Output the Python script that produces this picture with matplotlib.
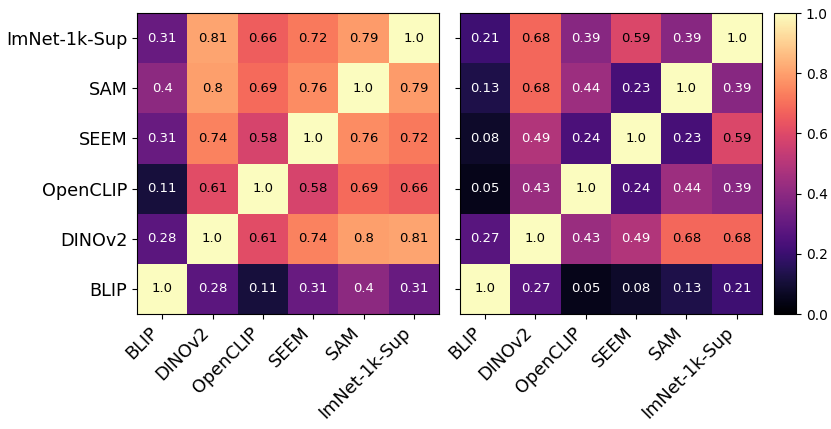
import numpy as np
import matplotlib
matplotlib.use('Agg')
import matplotlib.pyplot as plt

models = ['BLIP', 'DINOv2', 'OpenCLIP', 'SEEM', 'SAM', 'ImNet-1k-Sup']

# rows listed bottom (BLIP) to top (ImNet-1k-Sup), columns in models order
sim_left = [
    [1.0, 0.28, 0.11, 0.31, 0.4, 0.31],
    [0.28, 1.0, 0.61, 0.74, 0.8, 0.81],
    [0.11, 0.61, 1.0, 0.58, 0.69, 0.66],
    [0.31, 0.74, 0.58, 1.0, 0.76, 0.72],
    [0.4, 0.8, 0.69, 0.76, 1.0, 0.79],
    [0.31, 0.81, 0.66, 0.72, 0.79, 1.0],
]
sim_right = [
    [1.0, 0.27, 0.05, 0.08, 0.13, 0.21],
    [0.27, 1.0, 0.43, 0.49, 0.68, 0.68],
    [0.05, 0.43, 1.0, 0.24, 0.44, 0.39],
    [0.08, 0.49, 0.24, 1.0, 0.23, 0.59],
    [0.13, 0.68, 0.44, 0.23, 1.0, 0.39],
    [0.21, 0.68, 0.39, 0.59, 0.39, 1.0],
]

fig = plt.figure(figsize=(8.31, 4.29), dpi=100)
ax1 = fig.add_axes([0.1649, 0.268, 0.3634, 0.7016])
ax2 = fig.add_axes([0.5535, 0.268, 0.3634, 0.7016])
cax = fig.add_axes([0.9314, 0.268, 0.0265, 0.7016])

for ax, data, show_y in [(ax1, sim_left, True), (ax2, sim_right, False)]:
    m = np.array(data)
    im = ax.imshow(m, cmap='magma', vmin=0, vmax=1, origin='lower', aspect='auto')
    n = len(models)
    for i in range(n):
        for j in range(n):
            v = m[i, j]
            ax.text(j, i, str(v), ha='center', va='center', fontsize=9.5,
                    color='white' if v < 0.5 else 'black')
    ax.set_xticks(range(n))
    ax.set_xticklabels(models, rotation=45, ha='right', fontsize=12.7)
    ax.set_yticks(range(n))
    if show_y:
        ax.set_yticklabels(models, fontsize=12.7)
    else:
        ax.set_yticklabels([])

cb = fig.colorbar(im, cax=cax)
cb.set_ticks([0.0, 0.2, 0.4, 0.6, 0.8, 1.0])
cb.ax.tick_params(labelsize=10)

plt.savefig('out.png', dpi=100)
